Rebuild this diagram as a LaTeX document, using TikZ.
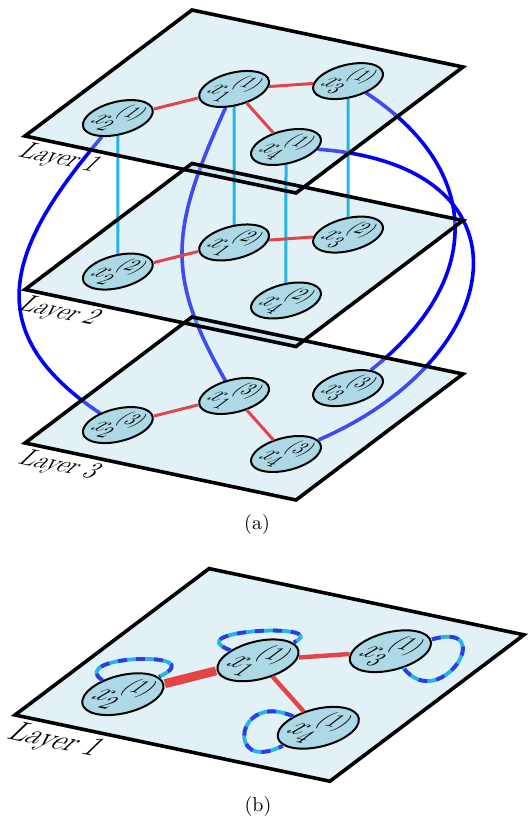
\documentclass[tikz,border=0pt]{standalone}
\usetikzlibrary{shapes.geometric}
\pgfdeclarelayer{curves}
\pgfdeclarelayer{planes}
\pgfdeclarelayer{links}
\pgfdeclarelayer{outlines}
\pgfsetlayers{curves,planes,links,outlines,main}
\definecolor{nodefill}{RGB}{173,216,230}
\definecolor{edgered}{RGB}{228,68,72}
\definecolor{linkcyan}{RGB}{35,180,232}
\definecolor{loopblue}{RGB}{45,60,235}
\definecolor{crossblue}{RGB}{0,0,250}
\tikzset{
  planefill/.style={fill=nodefill, fill opacity=0.35},
  planeline/.style={draw=black, line width=1.8pt},
  vnode/.style={ellipse, draw=black, line width=1pt, fill=nodefill,
    minimum width=28.5pt, minimum height=21.7pt, inner sep=-3pt, transform shape,
    font=\fontsize{13}{15}\selectfont},
  intra/.style={draw=edgered, line width=1.5pt},
  inter/.style={draw=linkcyan, line width=1.5pt},
  cross/.style={draw=crossblue, line width=1.8pt},
  lbl/.style={anchor=base west, transform shape, xslant=-0.2, inner sep=0pt,
    font=\fontsize{12.5}{14}\selectfont},
  selfloop/.style={draw=linkcyan, line width=1.9pt,
    postaction={draw=loopblue, line width=1.9pt, dash pattern=on 4.5pt off 4.5pt}},
  slantcm/.style={x=1pt, y=1pt, cm={0.93448,-0.19655,1.04375,0.7875,(0,0)}}
}
\newcommand{\drawplane}{%
  \begin{pgfonlayer}{planes}
    \fill[planefill] (0,0) -- (145,0) -- (145,80) -- (0,80) -- cycle;
  \end{pgfonlayer}
  \begin{pgfonlayer}{outlines}
    \draw[planeline] (0,0) -- (145,0) -- (145,80) -- (0,80) -- cycle;
  \end{pgfonlayer}}
\begin{document}
\begin{tikzpicture}[x=0.5pt, y=-0.5pt]
\useasboundingbox (0,0) rectangle (528,821);

% ---------- (a) Layer 1 ----------
\begin{scope}[shift={(25,136)}, slantcm]
  \drawplane
  \node[lbl] (lab1) at (7.7,-10.8) {Layer 1};
  \node[vnode] (a21) at (28.9,18.6) {$x_2^{(1)}$};
  \node[vnode] (a11) at (61.4,45.2) {$x_1^{(1)}$};
  \node[vnode] (a31) at (104.7,61.0) {$x_3^{(1)}$};
  \node[vnode] (a41) at (115.3,21.8) {$x_4^{(1)}$};
  \draw[intra] (a21) -- (a11);
  \draw[intra] (a11) -- (a31);
  \draw[intra] (a11) -- (a41);
\end{scope}

% ---------- (a) Layer 2 ----------
\begin{scope}[shift={(25,289.5)}, slantcm]
  \drawplane
  \node[lbl] (lab2) at (7.7,-10.8) {Layer 2};
  \node[vnode] (a22) at (28.9,18.6) {$x_2^{(2)}$};
  \node[vnode] (a12) at (61.4,45.2) {$x_1^{(2)}$};
  \node[vnode] (a32) at (104.7,61.0) {$x_3^{(2)}$};
  \node[vnode] (a42) at (115.3,21.8) {$x_4^{(2)}$};
  \draw[intra] (a22) -- (a12);
  \draw[intra] (a12) -- (a32);
\end{scope}

% ---------- (a) Layer 3 ----------
\begin{scope}[shift={(25,443)}, slantcm]
  \drawplane
  \node[lbl] (lab3) at (7.7,-10.8) {Layer 3};
  \node[vnode] (a23) at (28.9,18.6) {$x_2^{(3)}$};
  \node[vnode] (a13) at (61.4,45.2) {$x_1^{(3)}$};
  \node[vnode] (a33) at (104.7,61.0) {$x_3^{(3)}$};
  \node[vnode] (a43) at (115.3,21.8) {$x_4^{(3)}$};
  \draw[intra] (a23) -- (a13);
  \draw[intra] (a13) -- (a43);
\end{scope}

% inter-layer links
\begin{pgfonlayer}{links}
  \draw[inter] (a21) -- (a22);
  \draw[inter] (a11) -- (a12);
  \draw[inter] (a41) -- (a42);
  \draw[inter] (a31) -- (a32);
\end{pgfonlayer}
\begin{pgfonlayer}{curves}
  \draw[cross] (a21) .. controls (10,245) and (-25,330) .. (a23);
  \draw[cross] (a11) .. controls (170,230) and (165,275) .. (a13);
  \draw[cross] (a31) .. controls (484,170) and (484,281) .. (a33);
  \draw[cross] (a41) .. controls (540,165) and (510,357) .. (a43);
\end{pgfonlayer}

\node (capA) at (257,524) {(a)};

% ---------- (b) ----------
\begin{scope}[shift={(15,715)}, slantcm, scale=1.162]
  \drawplane
  \node[lbl] (labB) at (7.7,-10.8) {Layer 1};
  \node[vnode] (b2) at (28.9,18.6) {$x_2^{(1)}$};
  \node[vnode] (b1) at (61.4,45.2) {$x_1^{(1)}$};
  \node[vnode] (b3) at (104.7,61.0) {$x_3^{(1)}$};
  \node[vnode] (b4) at (115.3,21.8) {$x_4^{(1)}$};
\end{scope}
\draw[edgered, line width=4.5pt] (b2) -- (b1);
\draw[edgered, line width=2.2pt] (b1) -- (b3);
\draw[edgered, line width=2.2pt] (b1) -- (b4);
\draw[selfloop] (b2) .. controls (65,655) and (215,650) .. (b2);
\draw[selfloop] (b1) .. controls (175,630) and (335,622) .. (b1);
\draw[selfloop] (b3) .. controls (500,620) and (440,715) .. (b3);
\draw[selfloop] (b4) .. controls (235,690) and (225,775) .. (b4);

\node (capB) at (258,806) {(b)};
\end{tikzpicture}
\end{document}
